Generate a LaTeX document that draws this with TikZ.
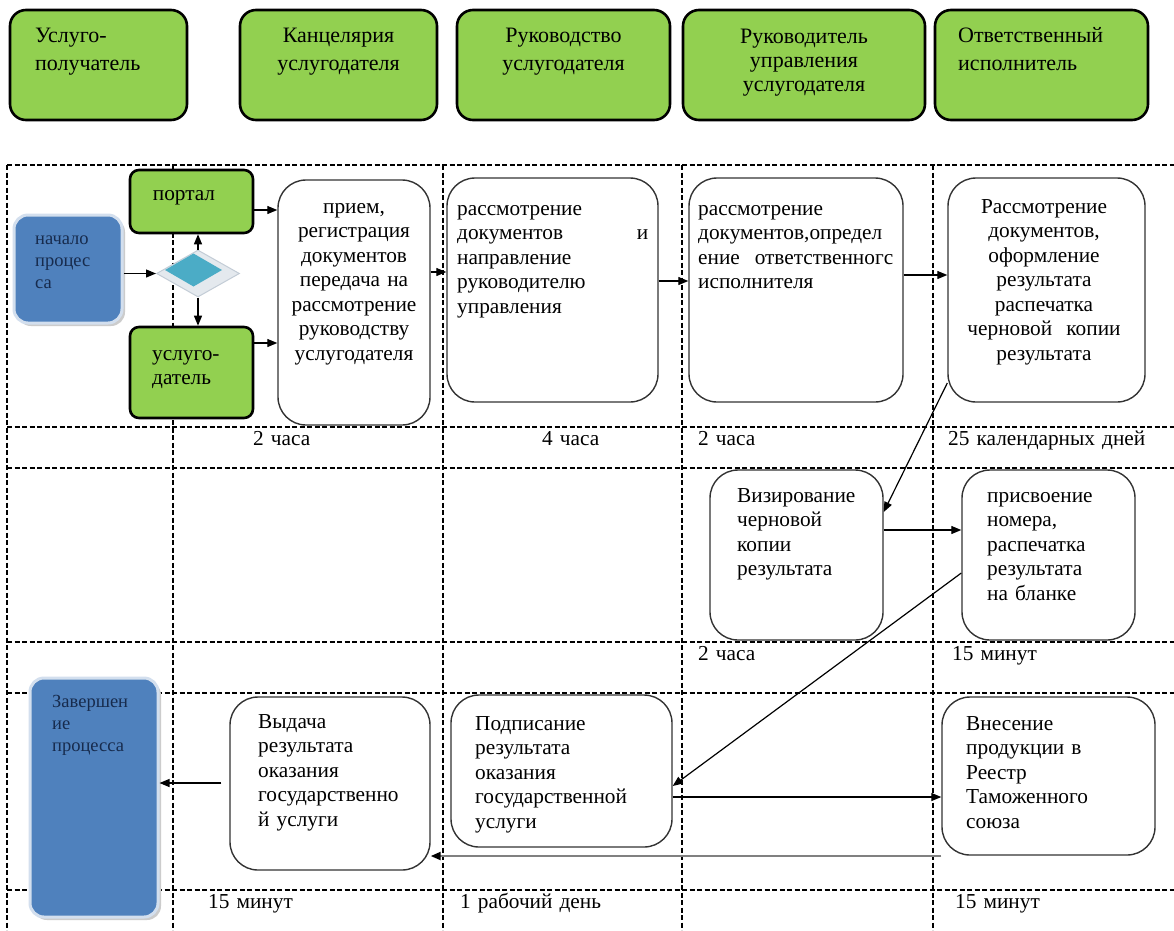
\documentclass[tikz,border=0pt]{standalone}
\usepackage{fontspec}
\setmainfont{Liberation Serif}
\newfontfamily\tnr{Liberation Serif}
\usetikzlibrary{arrows.meta,shapes.geometric,shadows}
\definecolor{grn}{HTML}{92D050}
\definecolor{blu}{HTML}{4F81BD}
\definecolor{tealc}{HTML}{4BACC6}
\definecolor{navy}{HTML}{172B4D}
\definecolor{boxline}{HTML}{333333}
\definecolor{diafill}{HTML}{E4E9EE}
\definecolor{diadraw}{HTML}{C3CCD6}
\newcommand{\bodyf}{\tnr\fontsize{21.3}{24.5}\selectfont}
\newcommand{\hdrf}{\tnr\fontsize{22}{28}\selectfont}
\newcommand{\hdrg}{\tnr\fontsize{22}{24}\selectfont}
\newcommand{\smallf}{\tnr\fontsize{18.5}{22}\selectfont}
\newcommand{\tp}{\rule{0pt}{18pt}}
\newcommand{\spread}[3]{\leavevmode\hbox to #1{#2\hfill #3}}
\begin{document}
\begin{tikzpicture}[x=1pt,y=-1pt,
  hdr/.style={draw=black, line width=2.6pt, fill=grn, rounded corners=16pt, inner sep=0pt},
  gbox/.style={draw=black, line width=2.6pt, fill=grn, rounded corners=9pt, inner sep=0pt},
  wbox/.style={draw=boxline, line width=1.4pt, fill=white, rounded corners=28pt, inner sep=0pt},
  bbox/.style={fill=blu, draw=blu!25!white, line width=3pt, rounded corners=14pt, inner sep=0pt,
     general shadow={fill=black!20, shadow xshift=3pt, shadow yshift=-3pt}},
  txt/.style={inner sep=0pt, anchor=north west, align=left, font=\bodyf, text width=#1},
  ctxt/.style={inner sep=0pt, anchor=north, align=center, font=\bodyf, text width=#1},
  gridline/.style={dash pattern=on 5pt off 2.5pt, line width=1.1pt, black},
  arr/.style={-{Triangle[length=10pt,width=8pt]}, line width=1.2pt, black},
]
\useasboundingbox (0,0) rectangle (1174,930);
\fill[white] (0,0) rectangle (1174,930);

% grid
\foreach \yy in {165,427,468,642,693,890} \draw[gridline] (7,\yy) -- (1174,\yy);
\foreach \xx in {7,173,443,682,933} \draw[gridline] (\xx,165) -- (\xx,930);

% header
\node[hdr, minimum width=177pt, minimum height=110pt] (h1) at (98.5,65) {};
\node[txt=150pt, font=\hdrf] (h1t) at (35,24) {\tp Услуго-\\получатель};
\node[hdr, minimum width=197pt, minimum height=110pt] (h2) at (338.5,65) {};
\node[ctxt=190pt, font=\hdrf] (h2t) at (338.5,24) {\tp Канцелярия\\услугодателя};
\node[hdr, minimum width=213pt, minimum height=110pt] (h3) at (563.5,65) {};
\node[ctxt=200pt, font=\hdrf] (h3t) at (563.5,24) {\tp Руководство\\услугодателя};
\node[hdr, minimum width=242pt, minimum height=110pt] (h4) at (804,65) {};
\node[ctxt=230pt, font=\hdrg] (h4t) at (804,25) {\tp Руководитель\\управления\\услугодателя};
\node[hdr, minimum width=213pt, minimum height=110pt] (h5) at (1041.5,65) {};
\node[txt=185pt, font=\hdrf] (h5t) at (958,24) {\tp Ответственный\\исполнитель};

% row 1
\node[bbox, minimum width=108pt, minimum height=108pt] (start) at (68,269) {};
\node[txt=85pt, font=\smallf, text=navy] (startt) at (35,226) {\tp начало\\процес\\са};
\node[gbox, minimum width=123pt, minimum height=63pt] (portal) at (191.5,201.5) {};
\node[ctxt=115pt] (portalt) at (184,182) {\tp портал};
\node[gbox, minimum width=123pt, minimum height=91pt] (usl) at (191.5,372.5) {};
\node[txt=100pt] (uslt) at (152,342) {\tp услуго-\\датель};
\node[diamond, minimum width=83pt, minimum height=47pt, inner sep=0pt, fill=diafill, draw=diadraw, line width=1pt] (dia) at (198,273.5) {};
\fill[tealc] (165,270) -- (193.5,253.5) -- (222,270) -- (193.5,286.5) -- cycle;

\node[wbox, minimum width=152pt, minimum height=245pt] (priem) at (354,302.5) {};
\node[ctxt=150pt] (priemt) at (354,195) {\tp прием,\\регистрация\\документов\\передача на\\рассмотрение\\руководству\\услугодателя};
\node[wbox, minimum width=211pt, minimum height=224pt] (r1) at (552.5,290) {};
\node[txt=195pt] (r1t) at (457,197) {\tp рассмотрение\\\spread{191pt}{документов}{и}\\направление\\руководителю\\управления};
\node[wbox, minimum width=214pt, minimum height=224pt] (r2) at (796,290) {};
\node[txt=200pt] (r2t) at (698,197) {\tp рассмотрение\\документов,определ\\\spread{195pt}{ение}{ответственногс}\\исполнителя};
\node[wbox, minimum width=197pt, minimum height=224pt] (r3) at (1046.5,290) {};
\node[ctxt=195pt] (r3t) at (1044,195) {\tp Рассмотрение\\документов,\\оформление\\результата\\распечатка\\черновой\ \ копии\\результата};

\node[txt=120pt] (d1) at (253,427) {\tp 2 часа};
\node[txt=120pt] (d2) at (542,427) {\tp 4 часа};
\node[txt=120pt] (d3) at (698,427) {\tp 2 часа};
\node[txt=225pt] (d4) at (948,427) {\tp 25 календарных дней};

% row 2
\node[wbox, minimum width=173pt, minimum height=170pt] (viz) at (796.5,555) {};
\node[txt=150pt] (vizt) at (737,484) {\tp Визирование\\черновой\\копии\\результата};
\node[wbox, minimum width=173pt, minimum height=170pt] (prisv) at (1048.5,555) {};
\node[txt=150pt] (prisvt) at (987,484) {\tp присвоение\\номера,\\распечатка\\результата\\на бланке};
\node[txt=120pt] (d5) at (698,642) {\tp 2 часа};
\node[txt=150pt] (d6) at (952,642) {\tp 15 минут};

% row 3
\node[bbox, minimum width=128pt, minimum height=239pt] (fin) at (94,797.5) {};
\node[txt=100pt, font=\smallf, text=navy] (fint) at (52,689) {\tp Завершен\\ие\\процесса};
\node[wbox, minimum width=200pt, minimum height=173pt] (vyd) at (330,783.5) {};
\node[txt=175pt] (vydt) at (258,710) {\tp Выдача\\результата\\оказания\\государственно\\й услуги};
\node[wbox, minimum width=221pt, minimum height=152pt] (podp) at (561.5,771) {};
\node[txt=200pt] (podpt) at (475,712) {\tp Подписание\\результата\\оказания\\государственной\\услуги};
\node[wbox, minimum width=213pt, minimum height=158pt] (vnes) at (1048.5,776) {};
\node[txt=185pt] (vnest) at (966,712) {\tp Внесение\\продукции в\\Реестр\\Таможенного\\союза};
\node[txt=150pt] (d7) at (208,890) {\tp 15 минут};
\node[txt=200pt] (d8) at (460,890) {\tp 1 рабочий день};
\node[txt=150pt] (d9) at (955,890) {\tp 15 минут};

% helper levels
\coordinate (y210) at (0,210);
\coordinate (y343) at (0,343);
\coordinate (y272) at (0,272);
\coordinate (y281) at (0,281);
\coordinate (y275) at (0,275);
\coordinate (y383) at (0,383);
\coordinate (y512) at (0,512);
\coordinate (y530) at (0,530);
\coordinate (y573) at (0,573);
\coordinate (y786) at (0,786);
\coordinate (y797) at (0,797);
\coordinate (y856) at (0,856);
\coordinate (y783) at (0,783);

% connectors
\draw[arr] (dia.west -| start.east) -- (dia.west);
\draw[arr] (dia.north) -- (dia.north |- portal.south);
\draw[arr] (dia.south) -- (dia.south |- usl.north);
\draw[arr] (portal.east |- y210) -- (priem.west |- y210);
\draw[arr] (usl.east |- y343) -- (priem.west |- y343);
\draw[arr] (priem.east |- y272) -- (r1.west |- y272);
\draw[arr] (r1.east |- y281) -- (r2.west |- y281);
\draw[arr] (r2.east |- y275) -- (r3.west |- y275);
\draw[arr] (r3.west |- y383) -- (viz.east |- y512);
\draw[arr] (viz.east |- y530) -- (prisv.west |- y530);
\draw[arr] (prisv.west |- y573) -- (podp.east |- y786);
\draw[arr] (podp.east |- y797) -- (vnes.west |- y797);
\draw[-{Triangle[length=10pt,width=8pt,color=black]}, line width=2.2pt, black!50] (vnes.west |- y856) -- (vyd.east |- y856);
\draw[arr, shorten <=8pt] (vyd.west |- y783) -- (fin.east |- y783);
\end{tikzpicture}
\end{document}
